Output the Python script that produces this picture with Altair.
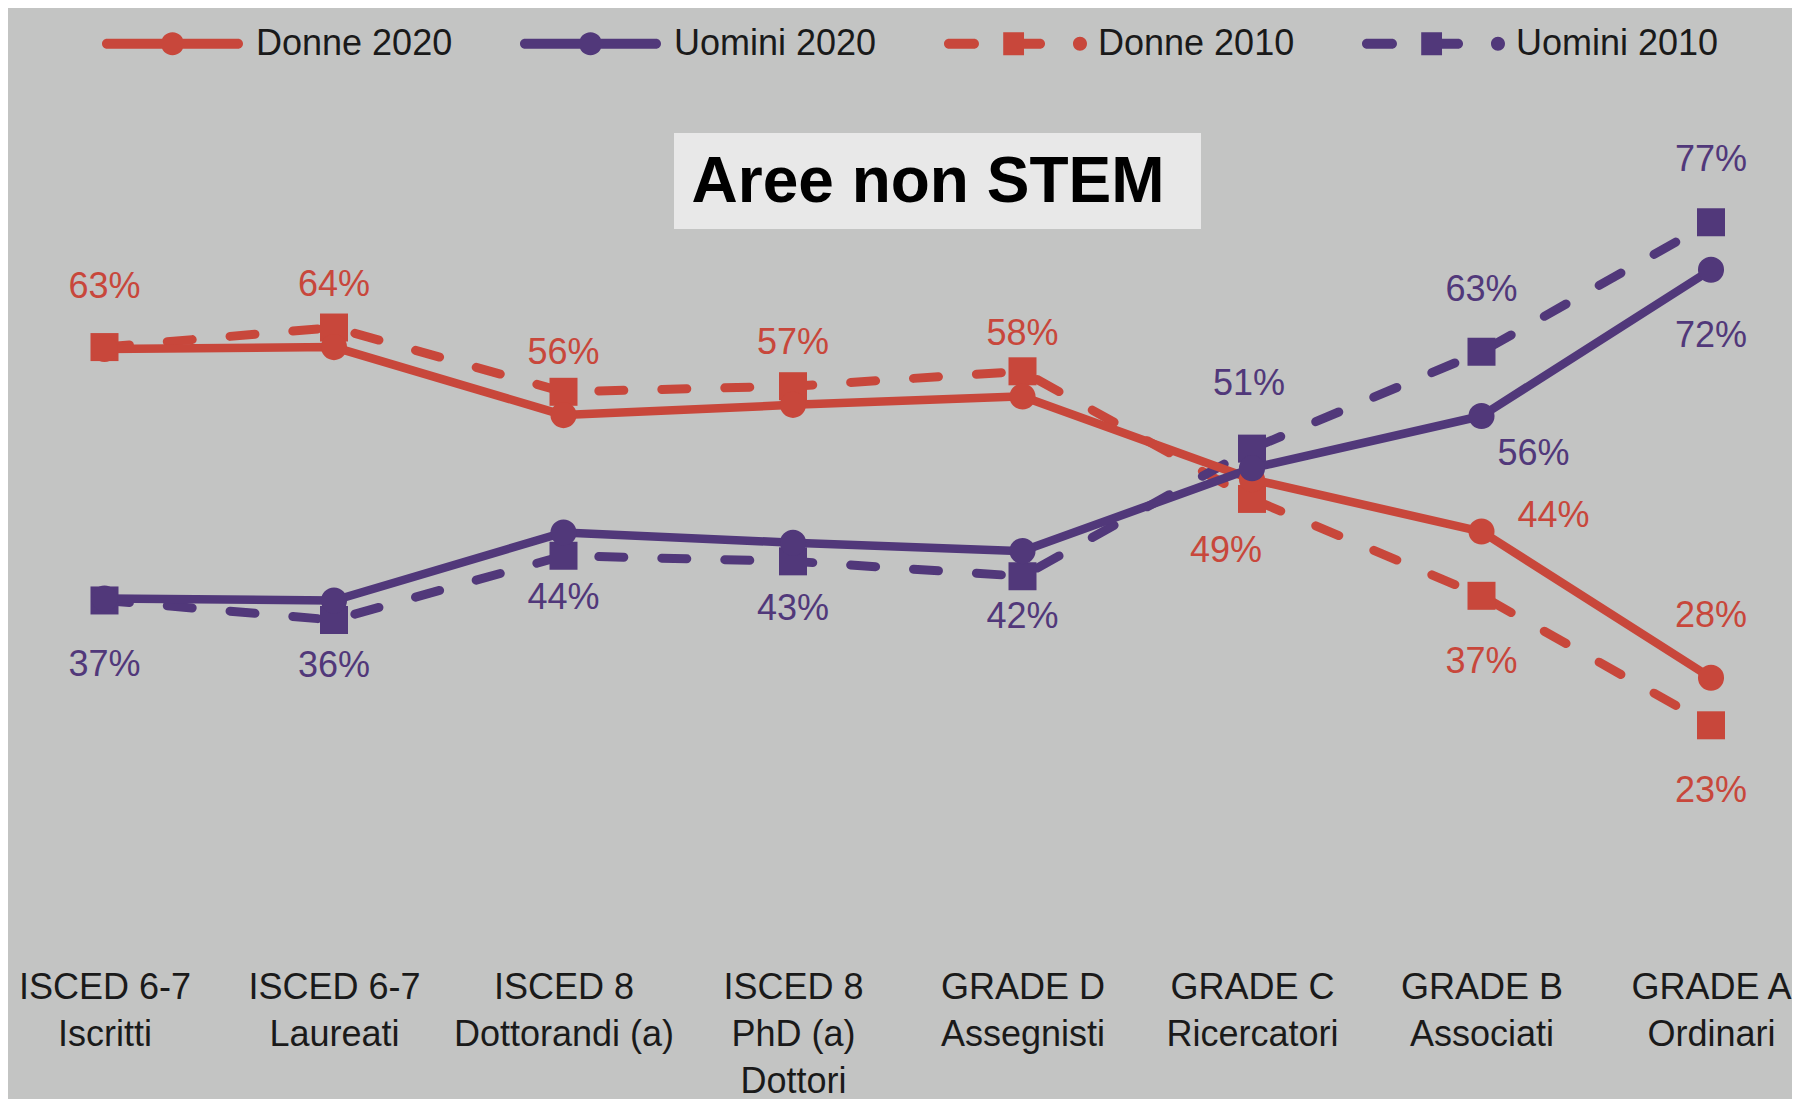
import altair as alt
import pandas as pd

FONT = "Liberation Sans"

# ---------------- data ----------------
categories = [
    "ISCED 6-7\nIscritti",
    "ISCED 6-7\nLaureati",
    "ISCED 8\nDottorandi (a)",
    "ISCED 8\nPhD (a)\nDottori",
    "GRADE D\nAssegnisti",
    "GRADE C\nRicercatori",
    "GRADE B\nAssociati",
    "GRADE A\nOrdinari",
]
donne_2020 = [63.4, 63.6, 56.3, 57.4, 58.3, 49.4, 43.8, 28.1]
uomini_2020 = [36.6, 36.4, 43.7, 42.6, 41.7, 50.6, 56.2, 71.9]
donne_2010 = [63.6, 65.7, 58.8, 59.4, 61.0, 47.3, 36.9, 23.0]
uomini_2010 = [36.4, 34.3, 41.2, 40.6, 39.0, 52.7, 63.1, 77.0]

donne_2020_labels = ["63%", "64%", "56%", "57%", "58%", "49%", "44%", "28%"]
uomini_2020_labels = ["37%", "36%", "44%", "43%", "42%", "51%", "56%", "72%"]
donne_2010_labels = ["", "", "", "", "", "", "37%", "23%"]
uomini_2010_labels = ["", "", "", "", "", "", "63%", "77%"]

donne_2020_place = ["above", "above", "above", "above", "above", "below_left", "right_high", "above"]
uomini_2020_place = ["below", "below", "below", "below", "below", "above_far", "right_low", "below"]
donne_2010_place = ["", "", "", "", "", "", "below", "below"]
uomini_2010_place = ["", "", "", "", "", "", "above", "above"]

series_names = ["Donne 2020", "Uomini 2020", "Donne 2010", "Uomini 2010"]
series_colors = ["#c8473b", "#51387a", "#c8473b", "#51387a"]

title_text = "Aree non STEM"

# ---------------- tables ----------------
def series_df(name, values, labels, places):
    return pd.DataFrame({
        "categoria": categories,
        "valore": values,
        "serie": name,
        "etichetta": labels,
        "posizione": places,
    })

df_2020 = pd.concat([
    series_df("Donne 2020", donne_2020, donne_2020_labels, donne_2020_place),
    series_df("Uomini 2020", uomini_2020, uomini_2020_labels, uomini_2020_place),
], ignore_index=True)
df_2010 = pd.concat([
    series_df("Donne 2010", donne_2010, donne_2010_labels, donne_2010_place),
    series_df("Uomini 2010", uomini_2010, uomini_2010_labels, uomini_2010_place),
], ignore_index=True)
df_all = pd.concat([df_2010, df_2020], ignore_index=True)
df_labels = df_all[df_all["etichetta"] != ""]

# ---------------- legend symbols (custom paths) ----------------
U = 70.5  # px per symbol unit


def f(v):
    return f"{v:.4f}"


def stadium(x0, x1, h):
    a, b = x0 + h, x1 - h
    return (f"M{f(a)},{f(-h)}H{f(b)}A{f(h)},{f(h)},0,0,1,{f(b)},{f(h)}"
            f"H{f(a)}A{f(h)},{f(h)},0,0,1,{f(a)},{f(-h)}Z")


def circ(cx, r):
    return (f"M{f(cx + r)},0A{f(r)},{f(r)},0,1,1,{f(cx - r)},0"
            f"A{f(r)},{f(r)},0,1,1,{f(cx + r)},0Z")


def box(x0, x1, hy):
    return f"M{f(x0)},{f(-hy)}H{f(x1)}V{f(hy)}H{f(x0)}Z"


H = 5 / U
P2020 = stadium(-1, 1, H) + circ(0, 11.5 / U)
P2010 = (stadium(-1, -0.504, H) + stadium(-0.02, 0.433, H)
         + box(-0.16, 0.135, 11.5 / U) + circ(0.929, 7 / U))

shape_expr = f"indexof(datum.value, '2020') >= 0 ? '{P2020}' : '{P2010}'"
fill_expr = f"indexof(datum.value, 'Donne') >= 0 ? '{series_colors[0]}' : '{series_colors[1]}'"

legend = alt.Legend(
    title=None,
    orient="none",
    legendX=94,
    legendY=-35,
    direction="horizontal",
    columns=4,
    symbolType=alt.ExprRef(expr=shape_expr),
    symbolFillColor=alt.ExprRef(expr=fill_expr),
    symbolStrokeColor="transparent",
    symbolSize=141 * 141,
    symbolStrokeWidth=0,
    symbolOpacity=1,
    labelFont=FONT,
    labelFontSize=36,
    labelColor="#1a1a1a",
    labelOffset=13,
    labelLimit=500,
    columnPadding=67,
    padding=0,
)

color_enc = alt.Color(
    "serie:N",
    scale=alt.Scale(domain=series_names, range=series_colors),
    legend=legend,
)

x_enc = alt.X(
    "categoria:N",
    sort=categories,
    scale=alt.Scale(type="point", range=[96.5, 1703], padding=0),
    axis=alt.Axis(
        title=None,
        labelExpr="split(datum.label, '\\n')",
        labelFont=FONT,
        labelFontSize=36,
        labelColor="#1a1a1a",
        labelLineHeight=47,
        labelPadding=23,
        labelBaseline="top",
        labelAngle=0,
        labelOverlap=False,
        labelLimit=400,
        ticks=False,
        domain=False,
        grid=False,
    ),
)
y_enc = alt.Y("valore:Q", scale=alt.Scale(domain=[-0.8, 100], nice=False, zero=False), axis=None)

# ---------------- layers ----------------
title_df = pd.DataFrame({"t": [title_text]})
title_box = alt.Chart(title_df).mark_rect(color="#e8e8e8").encode(
    x=alt.value(666), x2=alt.value(1193), y=alt.value(125), y2=alt.value(221)
)
title_mark = alt.Chart(title_df).mark_text(
    font=FONT, fontSize=64, fontWeight="bold", color="#000000", align="center", baseline="middle"
).encode(x=alt.value(920), y=alt.value(175), text="t:N")

line_2010 = alt.Chart(df_2010).mark_line(
    strokeWidth=9, strokeDash=[25, 38], strokeCap="round", strokeJoin="round"
).encode(x=x_enc, y=y_enc, color=color_enc, detail="serie:N")
pts_2010 = alt.Chart(df_2010).mark_point(
    shape="square", filled=True, size=784, opacity=1
).encode(x=x_enc, y=y_enc, color=color_enc)

line_2020 = alt.Chart(df_2020).mark_line(
    strokeWidth=8.5, strokeCap="round", strokeJoin="round"
).encode(x=x_enc, y=y_enc, color=color_enc, detail="serie:N")
pts_2020 = alt.Chart(df_2020).mark_point(
    shape="circle", filled=True, size=680, opacity=1
).encode(x=x_enc, y=y_enc, color=color_enc)

offsets = {
    "above": (0, -62),
    "below": (0, 66),
    "above_far": (-3, -84),
    "below_left": (-26, 72),
    "right_low": (52, 38),
    "right_high": (72, -16),
}
label_layers = []
for place, (dx, dy) in offsets.items():
    label_layers.append(
        alt.Chart(df_labels).transform_filter(
            alt.datum.posizione == place
        ).mark_text(
            font=FONT, fontSize=36, align="center", baseline="middle", dx=dx, dy=dy
        ).encode(x=x_enc, y=y_enc, text="etichetta:N", color=color_enc)
    )

chart = alt.layer(
    title_box, title_mark, line_2010, pts_2010, line_2020, pts_2020, *label_layers
).properties(
    width=1784,
    height=939,
    padding={"left": 0, "top": 0, "right": 0, "bottom": 152},
    autosize=alt.AutoSizeParams(type="none"),
).configure(
    background="#c3c4c3"
).configure_view(
    stroke=None
)

chart.save("out.html", embed_options={"renderer": "svg", "actions": False})
